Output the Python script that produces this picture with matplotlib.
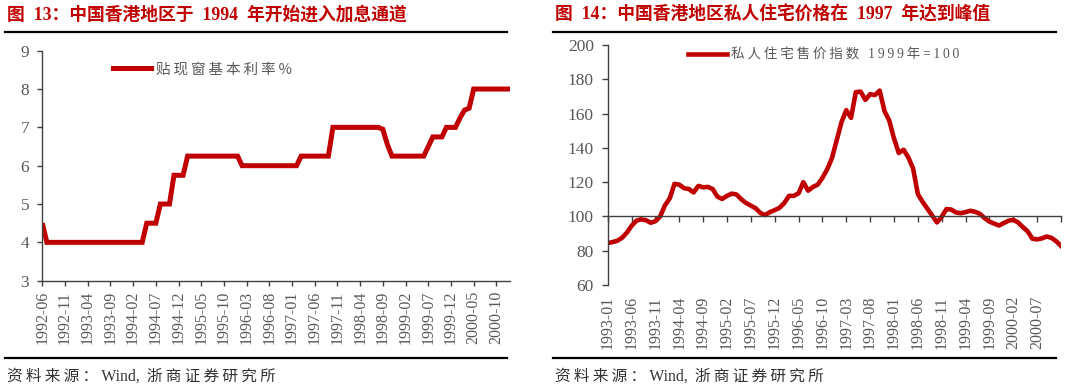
import matplotlib
matplotlib.use('Agg')
import matplotlib.pyplot as plt
from matplotlib.font_manager import FontProperties
from matplotlib.lines import Line2D

# ---------------- data ----------------
rate_labels = ['1992-06', '1992-11', '1993-04', '1993-09', '1994-02', '1994-07',
               '1994-12', '1995-05', '1995-10', '1996-03', '1996-08', '1997-01',
               '1997-06', '1997-11', '1998-04', '1998-09', '1999-02', '1999-07',
               '1999-12', '2000-05', '2000-10']
# monthly HK discount window base rate (%), 1992-06 .. 2001-01
rate_values = [
    4.5,
    4.0, 4.0, 4.0, 4.0, 4.0, 4.0, 4.0, 4.0, 4.0, 4.0, 4.0,
    4.0, 4.0, 4.0, 4.0, 4.0, 4.0, 4.0, 4.0, 4.0, 4.0, 4.0,
    4.5, 4.5, 4.5,
    5.0, 5.0, 5.0,
    5.75, 5.75, 5.75,
    6.25, 6.25, 6.25, 6.25, 6.25, 6.25, 6.25, 6.25, 6.25, 6.25, 6.25, 6.25,
    6.0, 6.0, 6.0, 6.0, 6.0, 6.0, 6.0, 6.0, 6.0, 6.0, 6.0, 6.0, 6.0,
    6.25, 6.25, 6.25, 6.25, 6.25, 6.25, 6.25,
    7.0, 7.0, 7.0, 7.0, 7.0, 7.0, 7.0, 7.0, 7.0, 7.0, 7.0,
    6.95, 6.55,
    6.25, 6.25, 6.25, 6.25, 6.25, 6.25, 6.25, 6.25,
    6.5,
    6.75, 6.75, 6.75,
    7.0, 7.0, 7.0,
    7.25, 7.45, 7.5,
    8.0, 8.0, 8.0, 8.0, 8.0, 8.0, 8.0, 8.0, 8.0,
]

hpi_labels = ['1993-01', '1993-06', '1993-11', '1994-04', '1994-09', '1995-02',
              '1995-07', '1995-12', '1996-05', '1996-10', '1997-03', '1997-08',
              '1998-01', '1998-06', '1998-11', '1999-04', '1999-09', '2000-02',
              '2000-07']
# monthly private domestic price index (1999=100), 1993-01 .. 2000-12
hpi_values = [
    84.5, 85.0, 85.8, 87.5, 90.5, 94.5, 97.5, 98.3, 97.8, 96.3,
    97.2, 100.0, 106.5, 110.5, 119.0, 118.5, 116.5, 116.0, 114.0, 117.8,
    117.0, 117.2, 116.0, 111.5, 110.2, 112.0, 113.3, 112.8, 110.0, 107.8,
    106.3, 104.8, 102.0, 100.8, 102.5, 103.7, 105.0, 107.8, 112.0, 112.0,
    113.5, 120.0, 115.0, 117.2, 118.5, 122.5, 127.5, 134.0, 144.5, 155.0,
    162.0, 157.5, 172.5, 172.8, 168.0, 171.3, 170.8, 173.4, 161.5, 156.0,
    145.5, 137.0, 138.9, 134.5, 128.0, 113.0, 108.5, 104.5, 100.5, 96.5,
    99.8, 104.3, 104.0, 102.3, 101.9, 102.5, 103.3, 102.7, 101.5, 99.0,
    97.0, 95.8, 94.7, 96.1, 97.5, 98.0, 96.5, 93.8, 91.3, 87.0,
    86.6, 87.2, 88.3, 87.5, 85.5, 82.8,
]

title_left = '图  13：中国香港地区于  1994  年开始进入加息通道'
title_right = '图  14：中国香港地区私人住宅价格在  1997  年达到峰值'
legend_left = '贴现窗基本利率%'
legend_right = '私人住宅售价指数 1999年=100'
source_text = '资料来源：Wind, 浙商证券研究所'

# ---------------- style ----------------
RED = '#C00000'
GRAY = '#595959'
AXC = '#404040'
SERIF_CJK = ['Liberation Serif', 'Noto Sans CJK SC', 'DejaVu Sans']
CJK_FIRST = ['Noto Sans CJK SC', 'DejaVu Sans']

def spaced(s):
    return '\u2009'.join(list(s))

W, H = 1080, 389
fig = plt.figure(figsize=(W / 100, H / 100), dpi=100)

def fx(px):
    return px / W

def fy(py):
    return 1 - py / H

# ---------------- left chart ----------------
axL = fig.add_axes([fx(42.3), fy(280.7), fx(510 - 42.3), fy(50.7) - fy(280.7)])
xL = list(range(len(rate_values)))
axL.plot(xL, rate_values, color=RED, lw=3.6, solid_capstyle='butt',
         solid_joinstyle='miter')
axL.set_xlim(0, len(rate_values) - 1)
axL.set_ylim(3, 9)
axL.set_yticks(range(3, 10))
axL.set_xticks(range(0, 5 * len(rate_labels), 5))
axL.set_xticklabels(rate_labels, rotation=90, va='top', ha='center')
for s in ['top', 'right']:
    axL.spines[s].set_visible(False)
for s in ['left', 'bottom']:
    axL.spines[s].set_color(AXC)
    axL.spines[s].set_linewidth(1.0)
axL.tick_params(axis='both', direction='out', length=3.5, width=1.0, color=AXC,
                labelcolor=GRAY)
axL.tick_params(axis='y', labelsize=12.5, pad=6)
axL.tick_params(axis='x', labelsize=11.5, pad=4)
for lab in axL.get_xticklabels() + axL.get_yticklabels():
    lab.set_fontfamily(SERIF_CJK)

hL = Line2D([], [], color=RED, lw=3.6)
legL = axL.legend([hL], [spaced(legend_left)], loc='center left',
                  bbox_to_anchor=(fx(113), fy(69.3)), bbox_transform=fig.transFigure,
                  frameon=False, borderpad=0, borderaxespad=0,
                  handlelength=2.6, handletextpad=0.35,
                  prop=FontProperties(family=CJK_FIRST, size=10.5))
for t in legL.get_texts():
    t.set_color(GRAY)

# ---------------- right chart ----------------
axR = fig.add_axes([fx(607.7), fy(285), fx(1061 - 607.7), fy(45) - fy(285)])
xR = list(range(len(hpi_values)))
axR.plot(xR, hpi_values, color=RED, lw=3.3, solid_joinstyle='round')
axR.set_xlim(0, len(hpi_values) - 1)
axR.set_ylim(60, 200)
axR.set_yticks(range(60, 201, 20))
axR.set_xticks(range(0, len(hpi_values), 5))
axR.set_xticklabels([])
axR.spines['bottom'].set_position(('data', 100))
for s in ['top', 'right']:
    axR.spines[s].set_visible(False)
for s in ['left', 'bottom']:
    axR.spines[s].set_color(AXC)
    axR.spines[s].set_linewidth(1.0)
axR.tick_params(axis='both', direction='out', length=4, width=1.0, color=AXC,
                labelcolor=GRAY)
axR.tick_params(axis='y', labelsize=12.5, pad=6)
for lab in axR.get_yticklabels():
    lab.set_fontfamily(SERIF_CJK)

sec = axR.secondary_xaxis(0.0)
sec.set_xticks(range(0, 5 * len(hpi_labels), 5))
sec.set_xticklabels(hpi_labels, rotation=90, va='top', ha='center')
sec.tick_params(axis='x', length=0, pad=8, labelsize=11.5, labelcolor=GRAY)
sec.spines['bottom'].set_visible(False)
for lab in sec.get_xticklabels():
    lab.set_fontfamily(SERIF_CJK)

hR = Line2D([], [], color=RED, lw=3.3)
legR = axR.legend([hR], [spaced(legend_right)], loc='center left',
                  bbox_to_anchor=(fx(688), fy(55)), bbox_transform=fig.transFigure,
                  frameon=False, borderpad=0, borderaxespad=0,
                  handlelength=2.9, handletextpad=0.25,
                  prop=FontProperties(family=SERIF_CJK, size=9.8))
for t in legR.get_texts():
    t.set_color(GRAY)

# ---------------- titles, rules, sources ----------------
for x0, x1, title in [(7, 507, title_left), (555, 1056, title_right)]:
    fig.text(fx(x0), fy(14.5), title, color=RED, fontsize=12.8, fontweight='bold',
             family=SERIF_CJK, ha='left', va='center')
for (x0, x1) in [(5, 507), (553, 1056)]:
    for yy in (31.7, 357.7):
        fig.add_artist(Line2D([fx(x0), fx(x1)], [fy(yy), fy(yy)],
                              transform=fig.transFigure, color='black', lw=1.6))
for x0 in (7, 555):
    fig.text(fx(x0), fy(376.5), spaced(source_text[:5]) + '\u2009Wind,\u2009 ' +
             spaced(source_text[11:]), color='#333333', fontsize=11.3,
             family=SERIF_CJK, ha='left', va='center')

fig.savefig('out.png', dpi=100)
